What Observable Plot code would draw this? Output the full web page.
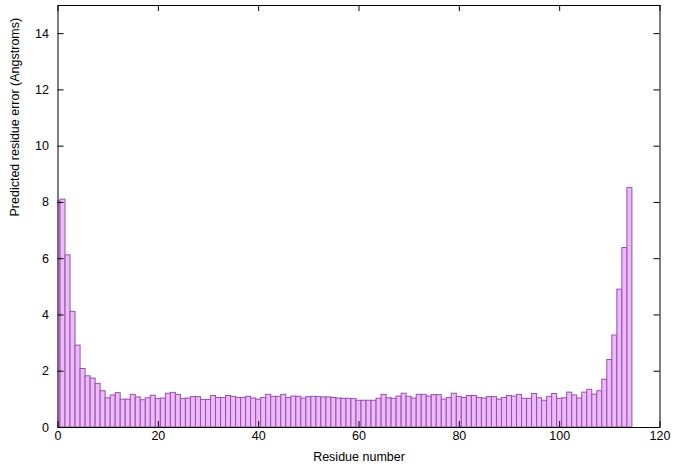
<!DOCTYPE html>
<html>
<head>
<meta charset="utf-8">
<script src="https://cdn.jsdelivr.net/npm/d3@7"></script>
<script src="https://cdn.jsdelivr.net/npm/@observablehq/plot@0.6"></script>
<style>
  html, body { margin: 0; padding: 0; background: #fff; }
  #chart { width: 675px; height: 472px; }
</style>
</head>
<body>
<div id="chart"></div>
<script>
const residues = [
  0,1,2,3,4,5,6,7,8,9,10,11,12,13,14,15,16,17,18,19,
  20,21,22,23,24,25,26,27,28,29,30,31,32,33,34,35,36,37,38,39,
  40,41,42,43,44,45,46,47,48,49,50,51,52,53,54,55,56,57,58,59,
  60,61,62,63,64,65,66,67,68,69,70,71,72,73,74,75,76,77,78,79,
  80,81,82,83,84,85,86,87,88,89,90,91,92,93,94,95,96,97,98,99,
  100,101,102,103,104,105,106,107,108,109,110,111,112,113,114
];
const errors = [
  8.04, 8.10, 6.12, 4.11, 2.91, 2.08, 1.82, 1.74, 1.55, 1.29,
  1.04, 1.14, 1.22, 0.99, 0.99, 1.16, 1.07, 0.97, 1.04, 1.13,
  1.01, 1.03, 1.20, 1.23, 1.16, 1.01, 1.03, 1.08, 1.08, 0.98,
  0.98, 1.12, 1.05, 1.05, 1.12, 1.09, 1.05, 1.05, 1.09, 1.03,
  0.99, 1.05, 1.16, 1.09, 1.09, 1.16, 1.05, 1.10, 1.09, 1.03,
  1.08, 1.09, 1.08, 1.07, 1.07, 1.05, 1.03, 1.02, 1.02, 1.01,
  0.95, 0.95, 0.95, 0.95, 1.02, 1.16, 1.04, 1.02, 1.10, 1.20,
  1.09, 1.03, 1.16, 1.16, 1.10, 1.15, 1.15, 0.99, 1.05, 1.20,
  1.09, 1.05, 1.12, 1.12, 1.05, 1.03, 1.08, 1.08, 0.99, 1.05,
  1.12, 1.10, 1.16, 1.02, 1.02, 1.19, 1.04, 0.95, 1.09, 1.19,
  1.02, 1.04, 1.24, 1.14, 1.03, 1.24, 1.34, 1.17, 1.29, 1.70,
  2.40, 3.27, 4.90, 6.38, 8.51
];
const xTicks = [0, 20, 40, 60, 80, 100, 120];
const yTicks = [0, 2, 4, 6, 8, 10, 12, 14];
const xLabel = "Residue number";
const yLabel = "Predicted residue error (Angstroms)";

const data = residues.map((r, i) => ({residue: r, error: errors[i]}));

const W = 675, H = 472;
const mL = 57.5, mR = 15.5, mT = 5, mB = 45;
const pw = W - mL - mR, ph = H - mT - mB;
const tick = 6;
const font = "'Liberation Sans', Arial, Helvetica, sans-serif";

const chart = Plot.plot({
  width: W,
  height: H,
  marginLeft: mL,
  marginRight: mR,
  marginTop: mT,
  marginBottom: mB,
  style: {fontFamily: font, fontSize: "12.5px", color: "#000", background: "#fff", overflow: "visible"},
  x: {domain: [0, 120], axis: null},
  y: {domain: [0, 15], axis: null},
  marks: [
    Plot.rect(data, {
      x1: d => d.residue - 0.5,
      x2: d => d.residue + 0.5,
      y1: 0,
      y2: "error",
      fill: "#ebbbf8",
      stroke: "#9b4db2",
      strokeWidth: 1,
      clip: true
    }),
    Plot.tickX(xTicks, {x: d => d, insetTop: ph - tick, stroke: "#000"}),
    Plot.tickX(xTicks, {x: d => d, insetBottom: ph - tick, stroke: "#000"}),
    Plot.tickY(yTicks, {y: d => d, insetRight: pw - tick, stroke: "#000"}),
    Plot.tickY(yTicks, {y: d => d, insetLeft: pw - tick, stroke: "#000"}),
    Plot.frame({stroke: "#000", strokeWidth: 1}),
    Plot.axisX(xTicks, {tickSize: 0, tickPadding: 4, label: null, fontSize: 12.5}),
    Plot.axisY(yTicks, {tickSize: 0, tickPadding: 9, label: null, fontSize: 12.5}),
    Plot.text([xLabel], {frameAnchor: "bottom", dy: 33, text: d => d, fontSize: 12.5, fill: "#000"}),
    Plot.text([yLabel], {frameAnchor: "left", dx: -43.5, rotate: -90, text: d => d, fontSize: 12.5, fill: "#000"})
  ]
});
document.getElementById("chart").appendChild(chart);
</script>
</body>
</html>
